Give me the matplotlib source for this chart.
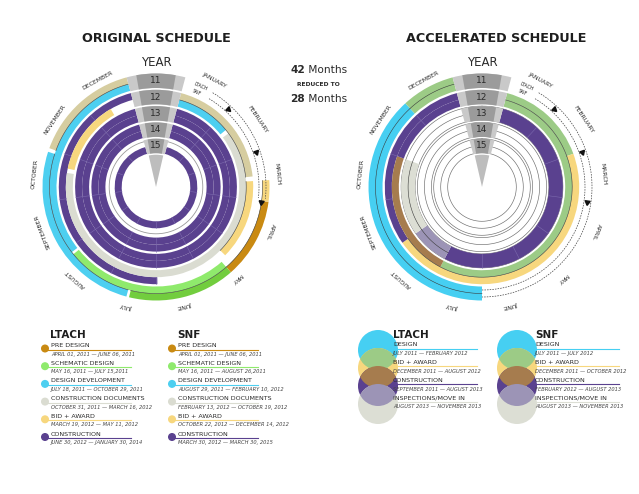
import numpy as np
import matplotlib
matplotlib.use("Agg")
import matplotlib.pyplot as plt
from matplotlib.patches import Circle

# ---------------- data ----------------
months = ["JANUARY", "FEBRUARY", "MARCH", "APRIL", "MAY", "JUNE", "JULY",
          "AUGUST", "SEPTEMBER", "OCTOBER", "NOVEMBER", "DECEMBER"]
years = ["11", "12", "13", "14", "15"]

# original schedule: ring (0 = 2011), track (L = LTACH, S = SNF), start/end month in year
orig_ring = [0, 0, 0, 0, 0, 0, 0,
             1, 1, 1, 1, 1, 1,
             2, 2, 3, 3, 4]
orig_track = ["L", "L", "S", "L", "S", "L", "L",
              "L", "L", "L", "S", "S", "S",
              "L", "S", "L", "S", "S"]
orig_start = [3.0, 4.5, 4.5, 6.55, 7.9, 10.0, 2.6,
              0.0, 2.6, 5.97, 0.0, 1.4, 9.7,
              0.0, 0.0, 0.0, 0.0, 0.0]
orig_end = [4.5, 6.5, 7.85, 9.93, 12.0, 12.0, 3.0,
            2.5, 4.35, 12.0, 1.3, 9.6, 11.45,
            12.0, 12.0, 12.0, 12.0, 12.0]
orig_phase = ["pre", "schem_l", "schem", "dd", "dd", "cd_l", "bid",
              "cd_l", "bid", "con", "dd", "cd", "bid",
              "con", "con", "con", "con", "con"]

# accelerated schedule (B = both tracks)
acc_ring = [0, 0, 1, 1, 1, 1, 1, 1, 2, 2, 2]
acc_track = ["B", "B", "L", "L", "L", "S", "S", "S", "B", "B", "B"]
acc_start = [6, 11, 0, 2, 8, 0, 7, 10, 0, 7, 8]
acc_end = [11, 12, 2, 8, 12, 7, 10, 12, 7, 8, 10]
acc_phase = ["design", "design_bid", "design_bid", "bid", "con", "design_bid",
             "bid_con", "con", "con", "con_insp", "insp"]

colors = {
    "pre": "#C98A12", "schem": "#8FEA6C", "schem_l": "#72CD3E", "dd": "#4DCFF0",
    "cd": "#DADCD1", "cd_l": "#D6CDA0", "bid": "#F7D77E", "con": "#5A418F",
    "design": "#46CFF2", "design_bid": "#9CCB86", "bid_con": "#A67C4E",
    "con_insp": "#9C94B6", "insp": "#DCDED4",
}

orig_legend_phases = ["PRE DESIGN", "SCHEMATIC DESIGN", "DESIGN DEVELOPMENT",
                      "CONSTRUCTION DOCUMENTS", "BID + AWARD", "CONSTRUCTION"]
orig_legend_colors = ["pre", "schem", "dd", "cd", "bid", "con"]
ltach_dates = ["APRIL 01, 2011 — JUNE 06, 2011", "MAY 16, 2011 — JULY 15,2011",
               "JULY 18, 2011 — OCTOBER 29, 2011", "OCTOBER 31, 2011 — MARCH 16, 2012",
               "MARCH 19, 2012 — MAY 11, 2012", "JUNE 30, 2012 — JANUARY 30, 2014"]
snf_dates = ["APRIL 01, 2011 — JUNE 06, 2011", "MAY 16, 2011 — AUGUST 26,2011",
             "AUGUST 29, 2011 — FEBRUARY 10, 2012", "FEBRUARY 13, 2012 — OCTOBER 19, 2012",
             "OCTOBER 22, 2012 — DECEMBER 14, 2012", "MARCH 30, 2012 — MARCH 30, 2015"]

acc_legend_phases = ["DESIGN", "BID + AWARD", "CONSTRUCTION", "INSPECTIONS/MOVE IN"]
acc_legend_colors = ["design", "bid", "con", "insp"]
acc_overlap_colors = ["design_bid", "bid_con", "con_insp"]
acc_ltach_dates = ["JULY 2011 — FEBRUARY 2012", "DECEMBER 2011 — AUGUST 2012",
                   "SEPTEMBER 2011 — AUGUST 2013", "AUGUST 2013 — NOVEMBER 2013"]
acc_snf_dates = ["JULY 2011 — JULY 2012", "DECEMBER 2011 — OCTOBER 2012",
                 "FEBRUARY 2012 — AUGUST 2013", "AUGUST 2013 — NOVEMBER 2013"]

# ---------------- layout ----------------
W, H = 639, 494
fig = plt.figure(figsize=(W / 100, H / 100), dpi=100)
ov = fig.add_axes([0, 0, 1, 1])
ov.set_xlim(0, W)
ov.set_ylim(H, 0)
ov.axis("off")

TXT = "#2a2a2a"
RA = 140


def phi(m):
    return 15 + 27.5 * m


def th(m):
    return np.deg2rad(phi(m))


def ring_R(i):
    return 113.5 - 16.3 * i


def track_r(i, t):
    R = ring_R(i)
    return {"L": (R - 7, R), "S": (R - 14, R - 7), "B": (R - 14, R)}[t]


def make_dial(cx, cy):
    ax = fig.add_axes([(cx - RA) / W, 1 - (cy + RA) / H, 2 * RA / W, 2 * RA / H],
                      projection="polar")
    ax.set_theta_zero_location("N")
    ax.set_theta_direction(-1)
    ax.set_ylim(0, RA)
    ax.axis("off")
    return ax


def draw_segments(ax, rings, tracks, starts, ends, phases, lines=True):
    for i, t, s, e, p in zip(rings, tracks, starts, ends, phases):
        if e <= s:
            continue
        r0, r1 = track_r(i, t)
        ax.bar((th(s) + th(e)) / 2, r1 - r0, width=th(e) - th(s), bottom=r0,
               color=colors[p], linewidth=0, zorder=3)
        if p == "con":
            for mb in range(int(np.ceil(s + 0.01)), int(np.floor(e - 0.01)) + 1):
                ax.plot([th(mb)] * 2, [r0, r1], color="#7C6AAE", lw=0.4, zorder=4)
        elif lines and t in ("L", "B"):
            rr = r0 if t == "L" else (r0 + r1) / 2
            tt = np.linspace(th(s), th(e), 60)
            ax.plot(tt, np.full_like(tt, rr), color="#3a3a3a", lw=0.4, zorder=4)


def draw_frame(ax, dash_end):
    # month labels
    for k, name in enumerate(months):
        p = phi(k + 0.5)
        ax.text(np.deg2rad(p), 122, name, rotation=-p, rotation_mode="anchor",
                ha="center", va="center", fontsize=4.4, color=TXT, zorder=6)
    # year column
    for i, y in enumerate(years):
        R = ring_R(i)
        ax.bar(0, 14.5, width=np.deg2rad(30), bottom=R - 14.5, color="#C9C9C9",
               linewidth=0, zorder=7)
        ax.bar(0, 14.5, width=np.deg2rad(20), bottom=R - 14.5, color="#9B9B9B",
               linewidth=0, zorder=8)
        ax.text(0, R - 7.3, y, ha="center", va="center", fontsize=6.5,
                color=TXT, zorder=9)
    ax.bar(0, ring_R(4) - 16, width=np.deg2rad(26), bottom=0, color="#BDBDBD",
           linewidth=0, zorder=7)
    ax.text(0, 124, "YEAR", ha="center", va="center", fontsize=8.5, color=TXT)
    # LTACH / SNF labels and dashed arrows
    for t, lab in (("L", "LTACH"), ("S", "SNF")):
        r0, r1 = track_r(0, t)
        rm = (r0 + r1) / 2
        ax.text(np.deg2rad(20.5), rm, lab, rotation=-24, rotation_mode="anchor",
                ha="left", va="center", fontsize=3.4, color=TXT, zorder=6)
        tt = np.linspace(np.deg2rad(31), th(dash_end), 100)
        ax.plot(tt, np.full_like(tt, rm), color="#444444", lw=0.5,
                ls=(0, (2.2, 1.6)), zorder=5)
    for a in (42.6, 71.0, 98.0):
        ax.plot(np.deg2rad(a), 106, marker=(3, 0, -a - 90), ms=4.2,
                color="#111111", zorder=6, linestyle="none")


tt = np.linspace(0, 2 * np.pi, 400)

# ---------------- original dial ----------------
axL = make_dial(156, 187)
draw_segments(axL, orig_ring, orig_track, orig_start, orig_end, orig_phase)
axL.plot(tt, np.full_like(tt, ring_R(4) - 1.5), color="#9a9a9a", lw=0.6, zorder=2)
draw_frame(axL, 2.95)

# ---------------- accelerated dial ----------------
axR = make_dial(482, 187)
for i in (2, 3, 4):
    R = ring_R(i)
    for rr in (R, R - 7, R - 14):
        axR.plot(tt, np.full_like(tt, rr), color="#6a6a6a", lw=0.45, zorder=2)
draw_segments(axR, acc_ring, acc_track, acc_start, acc_end, acc_phase)
draw_frame(axR, 6.0)

# ---------------- titles ----------------
ov.text(156, 38, "ORIGINAL SCHEDULE", ha="center", va="center", fontsize=9.2,
        fontweight="bold", color="#1e1e1e")
ov.text(496, 38, "ACCELERATED SCHEDULE", ha="center", va="center", fontsize=9.2,
        fontweight="bold", color="#1e1e1e")
ov.text(305, 70, "42", ha="right", va="center", fontsize=7.6, fontweight="bold", color=TXT)
ov.text(305, 70, " Months", ha="left", va="center", fontsize=7.6, color=TXT)
ov.text(318, 85, "REDUCED TO", ha="center", va="center", fontsize=4.3,
        fontweight="bold", color=TXT)
ov.text(305, 99, "28", ha="right", va="center", fontsize=7.6, fontweight="bold", color=TXT)
ov.text(305, 99, " Months", ha="left", va="center", fontsize=7.6, color=TXT)

# ---------------- original legend ----------------
for x0, head, dates in ((45, "LTACH", ltach_dates), (172, "SNF", snf_dates)):
    ov.text(x0 + 5, 335, head, ha="left", va="center", fontsize=7.5,
            fontweight="bold", color="#1e1e1e")
    for k, (ph, c, d) in enumerate(zip(orig_legend_phases, orig_legend_colors, dates)):
        y = 345.5 + 17.7 * k
        ov.plot([x0 + 2, x0 + 86], [y + 4, y + 4], color=colors[c], lw=0.8)
        ov.add_patch(Circle((x0, y + 3), 3.3, color=colors[c], zorder=5))
        ov.text(x0 + 6, y, ph, ha="left", va="center", fontsize=4.6, color=TXT)
        ov.text(x0 + 6, y + 8.5, d, ha="left", va="center", fontsize=3.7,
                style="italic", color="#444444")

# ---------------- accelerated legend ----------------
for cxl, x0, head, dates in ((378, 393, "LTACH", acc_ltach_dates),
                             (517, 535, "SNF", acc_snf_dates)):
    cys = [350, 368, 386, 404]
    circs = []
    for k, c in enumerate(acc_legend_colors):
        cp = Circle((cxl, cys[k]), 20, color=colors[c], zorder=2, linewidth=0)
        ov.add_patch(cp)
        circs.append(cp)
    for k, c in enumerate(acc_overlap_colors):
        lens = Circle((cxl, cys[k + 1]), 20, color=colors[c], zorder=3, linewidth=0)
        ov.add_patch(lens)
        lens.set_clip_path(circs[k])
    ov.text(x0, 335, head, ha="left", va="center", fontsize=7.5,
            fontweight="bold", color="#1e1e1e")
    for k, (ph, c, d) in enumerate(zip(acc_legend_phases, acc_legend_colors, dates)):
        y = 344.5 + 17.9 * k
        ov.plot([x0, x0 + 84], [y + 4, y + 4], color=colors[c], lw=0.8, zorder=4)
        ov.text(x0, y, ph, ha="left", va="center", fontsize=4.6, color=TXT, zorder=5)
        ov.text(x0, y + 8.7, d, ha="left", va="center", fontsize=3.7,
                style="italic", color="#444444", zorder=5)

fig.savefig("out.png", dpi=100)
